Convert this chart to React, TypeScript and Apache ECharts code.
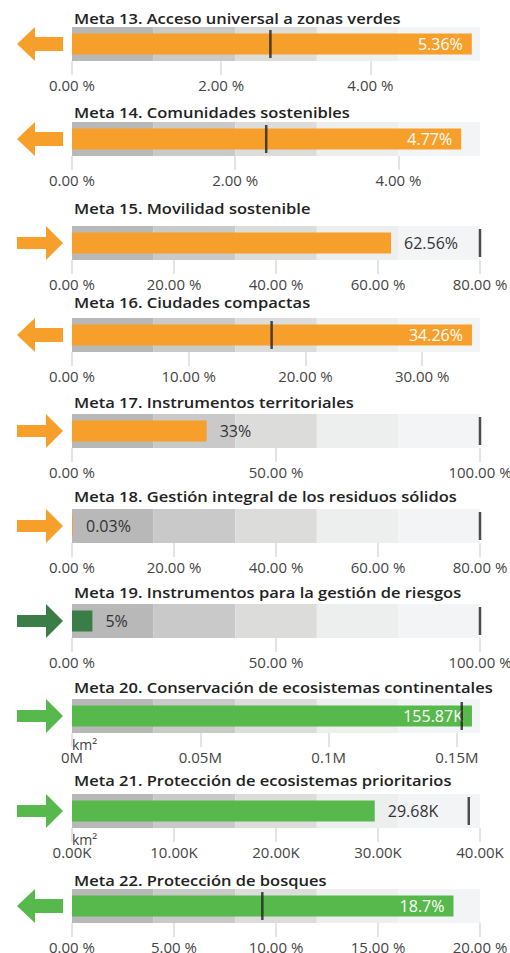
import React, { useEffect, useRef } from 'react';
import * as echarts from 'echarts';

const titles = [
  'Meta 13. Acceso universal a zonas verdes',
  'Meta 14. Comunidades sostenibles',
  'Meta 15. Movilidad sostenible',
  'Meta 16. Ciudades compactas',
  'Meta 17. Instrumentos territoriales',
  'Meta 18. Gestión integral de los residuos sólidos',
  'Meta 19. Instrumentos para la gestión de riesgos',
  'Meta 20. Conservación de ecosistemas continentales',
  'Meta 21. Protección de ecosistemas prioritarios',
  'Meta 22. Protección de bosques',
];
const values = [5.36, 4.77, 62.56, 34.26, 33, 0.03, 5, 155870, 29680, 18.7];
const targets = [2.66, 2.38, 80, 17.1, 100, 80, 100, 151900, 38900, 9.33];
const axisMax = [5.47, 5, 80, 34.95, 100, 80, 100, 159000, 40000, 20];
const tickValues = [
  [0, 2, 4],
  [0, 2, 4],
  [0, 20, 40, 60, 80],
  [0, 10, 20, 30],
  [0, 50, 100],
  [0, 20, 40, 60, 80],
  [0, 50, 100],
  [0, 50000, 100000, 150000],
  [0, 10000, 20000, 30000, 40000],
  [0, 5, 10, 15, 20],
];
const units = ['%', '%', '%', '%', '%', '%', '%', 'km2M', 'km2K', '%'];
const directions = ['left', 'left', 'right', 'left', 'right', 'right', 'right', 'right', 'right', 'left'];
const labelInside = [true, true, false, true, false, false, false, true, false, true];
const colorKeys = ['orange', 'orange', 'orange', 'orange', 'orange', 'orange', 'dark', 'green', 'green', 'green'];

const palette: Record<string, string> = { orange: '#F79F2B', dark: '#3A7D46', green: '#57B84B' };
const bandColors = ['#B8B8B8', '#C9C9C9', '#DCDCDB', '#EDEEEE', '#F3F4F6'];
const bandTops = [27, 122, 226, 318, 414, 509, 604, 699, 794, 889];
const titleYs = [18, 112, 208, 302, 402, 496, 592, 687, 780, 880];
const FONT = '"Open Sans", sans-serif';

function fmtAxis(unit: string, v: number): string {
  if (unit === '%') return v.toFixed(2) + ' %';
  if (unit === 'km2M') return v / 1000000 + 'M';
  return (v / 1000).toFixed(2) + 'K';
}
function fmtValue(unit: string, v: number): string {
  if (unit === '%') return String(v) + '%';
  return (v / 1000).toFixed(2) + 'K';
}

export default function App() {
  const ref = useRef<HTMLDivElement>(null);
  useEffect(() => {
    const chart = echarts.init(ref.current!, null, { renderer: 'svg' });
    const grid: any[] = [];
    const xAxis: any[] = [];
    const yAxis: any[] = [];
    const series: any[] = [];
    const graphic: any[] = [];
    titles.forEach((t, i) => {
      const top = bandTops[i];
      const color = palette[colorKeys[i]];
      grid.push({ left: 72, width: 408, top, height: 34, containLabel: false, outerBoundsMode: 'none' });
      xAxis.push({
        type: 'value', gridIndex: i, min: 0, max: axisMax[i], position: 'bottom',
        splitLine: { show: false }, axisLine: { show: false },
        axisTick: { show: true, length: 14, customValues: tickValues[i], lineStyle: { color: '#E4E4E4', width: 2 } },
        axisLabel: {
          customValues: tickValues[i], margin: 16, color: '#444', fontSize: 15, fontFamily: FONT,
          formatter: (v: number) => fmtAxis(units[i], v),
        },
      });
      yAxis.push({ type: 'category', gridIndex: i, data: ['b'], show: false });
      yAxis.push({ type: 'category', gridIndex: i, data: ['v'], show: false });
      bandColors.forEach((c) => {
        series.push({
          type: 'bar', xAxisIndex: i, yAxisIndex: 2 * i, stack: 'bands' + i, barWidth: 34,
          data: [axisMax[i] / 5], itemStyle: { color: c }, silent: true, z: 1,
        });
      });
      series.push({
        type: 'bar', xAxisIndex: i, yAxisIndex: 2 * i + 1, barWidth: 21, barMinHeight: 1,
        data: [values[i]], itemStyle: { color }, z: 3,
        label: {
          show: true,
          position: labelInside[i] ? 'insideRight' : 'right',
          distance: labelInside[i] ? 9 : 13,
          color: labelInside[i] ? '#FFFFFF' : '#333333',
          fontSize: 16, fontFamily: FONT,
          formatter: () => fmtValue(units[i], values[i]),
        },
      });
      series.push({
        type: 'scatter', xAxisIndex: i, yAxisIndex: 2 * i + 1, symbol: 'rect', symbolSize: [2.5, 28],
        data: [[targets[i], 0]], itemStyle: { color: '#222222' }, z: 4, silent: true,
      });
      graphic.push({
        type: 'text', x: 74, y: titleYs[i], scaleX: 1.1,
        style: { text: t, font: `600 15px ${FONT}`, fill: '#222222', verticalAlign: 'middle', align: 'left' },
      });
      const cy = top + 17;
      const pts = directions[i] === 'left'
        ? [[17, cy], [35, cy - 17], [35, cy - 7], [63, cy - 7], [63, cy + 7], [35, cy + 7], [35, cy + 17]]
        : [[63, cy], [46, cy - 17], [46, cy - 6], [17, cy - 6], [17, cy + 6], [46, cy + 6], [46, cy + 17]];
      graphic.push({ type: 'polygon', shape: { points: pts }, style: { fill: color } });
      if (units[i] !== '%') {
        graphic.push({
          type: 'text', x: 72, y: top + 34 + 11,
          style: { text: 'km²', font: `14px ${FONT}`, fill: '#444444', verticalAlign: 'middle' },
        });
      }
    });
    chart.setOption({ animation: false, grid, xAxis, yAxis, series, graphic });
    return () => chart.dispose();
  }, []);
  return <div ref={ref} style={{ position: 'absolute', left: 0, top: 0, width: 510, height: 953 }} />;
}
